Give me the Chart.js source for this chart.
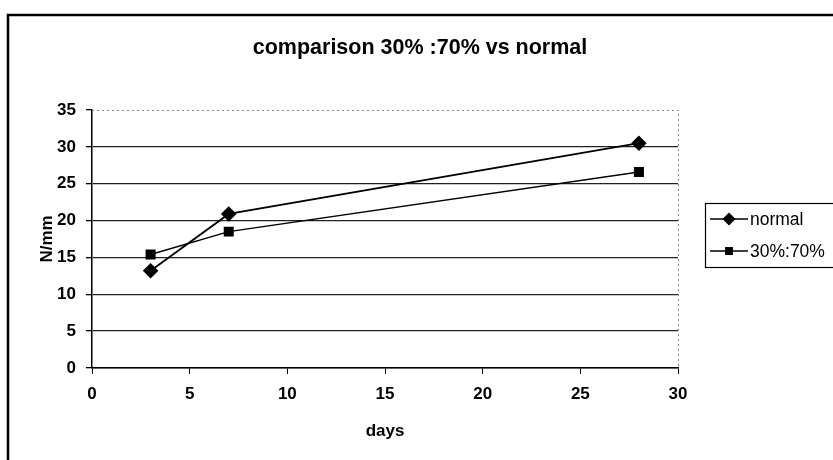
<!DOCTYPE html>
<html>
<head>
<meta charset="utf-8">
<script src="https://cdn.jsdelivr.net/npm/chart.js@4/dist/chart.umd.min.js"></script>
<style>
  html, body { margin: 0; padding: 0; background: #fff; }
  #wrap { width: 833px; height: 460px; }
</style>
</head>
<body>
<div id="wrap"><canvas id="chartLine" width="833" height="460"></canvas></div>
<script>
const chartTitle = 'comparison 30% :70% vs normal'
const days = [3, 7, 28]
const normal = [13.2, 20.9, 30.5]
const mix = [15.4, 18.5, 26.6]
const seriesLabels = ['normal', '30%:70%']
const seriesMarkers = ['rectRot', 'rect']
const xTicks = [0, 5, 10, 15, 20, 25, 30]
const yTicks = [0, 5, 10, 15, 20, 25, 30, 35]

const FONT = "'Liberation Sans', Arial, sans-serif"

const toPoints = (values) => days.map((d, i) => ({ x: d, y: values[i] }))

// frame, plot border, title and legend box like the old spreadsheet chart
const decor = {
  id: 'decor',
  beforeDraw (chart) {
    const ctx = chart.ctx
    ctx.save()
    ctx.fillStyle = '#fff'
    ctx.fillRect(0, 0, chart.width, chart.height)
    ctx.strokeStyle = '#000'
    ctx.lineWidth = 2.5
    ctx.beginPath()
    ctx.moveTo(8, 462)
    ctx.lineTo(8, 15)
    ctx.lineTo(840, 15)
    ctx.stroke()
    ctx.restore()
  },
  afterDraw (chart) {
    const ctx = chart.ctx
    const area = chart.chartArea
    ctx.save()
    // dotted plot border top/right
    ctx.strokeStyle = '#888'
    ctx.lineWidth = 1
    ctx.setLineDash([2, 3])
    ctx.beginPath()
    ctx.moveTo(area.left, area.top + 0.5)
    ctx.lineTo(area.right + 0.5, area.top + 0.5)
    ctx.lineTo(area.right + 0.5, area.bottom)
    ctx.stroke()
    ctx.setLineDash([])

    // title
    ctx.fillStyle = '#000'
    ctx.font = 'bold 21.5px ' + FONT
    ctx.textAlign = 'center'
    ctx.textBaseline = 'middle'
    ctx.fillText(chartTitle, 420, 48)

    // legend
    ctx.strokeStyle = '#000'
    ctx.lineWidth = 1.2
    ctx.strokeRect(705.5, 203.5, 150, 64)
    ctx.font = '17.5px ' + FONT
    ctx.textAlign = 'left'
    seriesLabels.forEach((label, i) => {
      const y = 219 + i * 32
      ctx.lineWidth = 1.5
      ctx.beginPath()
      ctx.moveTo(710, y)
      ctx.lineTo(748, y)
      ctx.stroke()
      Chart.helpers.drawPoint(ctx, {
        pointStyle: seriesMarkers[i],
        radius: i === 0 ? 5.5 : 4.5,
        borderWidth: 1
      }, 729, y)
      ctx.fillText(label, 750, y + 1)
    })
    ctx.restore()
  }
}

const config = {
  type: 'line',
  data: {
    datasets: [{
      label: seriesLabels[0],
      data: toPoints(normal),
      borderColor: '#000',
      backgroundColor: '#000',
      borderWidth: 1.8,
      pointStyle: seriesMarkers[0],
      pointRadius: 6.5,
      pointBackgroundColor: '#000',
      tension: 0
    }, {
      label: seriesLabels[1],
      data: toPoints(mix),
      borderColor: '#000',
      backgroundColor: '#000',
      borderWidth: 1.5,
      pointStyle: seriesMarkers[1],
      pointRadius: 6,
      pointBackgroundColor: '#000',
      tension: 0
    }]
  },
  options: {
    responsive: false,
    animation: false,
    layout: { padding: { left: 0, top: 110, right: 155, bottom: 0 } },
    plugins: {
      legend: { display: false },
      title: { display: false },
      tooltip: { enabled: false }
    },
    scales: {
      x: {
        type: 'linear',
        min: 0,
        max: 30,
        afterFit: (scale) => { scale.height = 92 },
        afterBuildTicks: (scale) => { scale.ticks = xTicks.map(v => ({ value: v })) },
        grid: { drawOnChartArea: false, drawTicks: true, tickLength: 6, color: '#000' },
        border: { color: '#000', width: 1.5 },
        ticks: { color: '#000', padding: 10, font: { family: FONT, size: 17, weight: 'bold' } },
        title: {
          display: true,
          text: 'days',
          color: '#000',
          padding: { top: 0, bottom: 18 },
          font: { family: FONT, size: 17, weight: 'bold' }
        }
      },
      y: {
        min: 0,
        max: 35,
        afterFit: (scale) => { scale.width = 92 },
        afterBuildTicks: (scale) => { scale.ticks = yTicks.map(v => ({ value: v })) },
        grid: {
          color: (c) => c.tick && c.tick.value === 35 ? 'rgba(0,0,0,0)' : '#222',
          lineWidth: 1.3,
          tickLength: 6,
          tickColor: '#000'
        },
        border: { color: '#000', width: 1.5 },
        ticks: { color: '#000', padding: 10, font: { family: FONT, size: 17, weight: 'bold' } },
        title: {
          display: true,
          text: 'N/mm',
          color: '#000',
          padding: { top: 37, bottom: 0 },
          font: { family: FONT, size: 17, weight: 'bold' }
        }
      }
    }
  },
  plugins: [decor]
}

const canvas = document.getElementById('chartLine').getContext('2d')
window.priceLine = new Chart(canvas, config)
</script>
</body>
</html>
